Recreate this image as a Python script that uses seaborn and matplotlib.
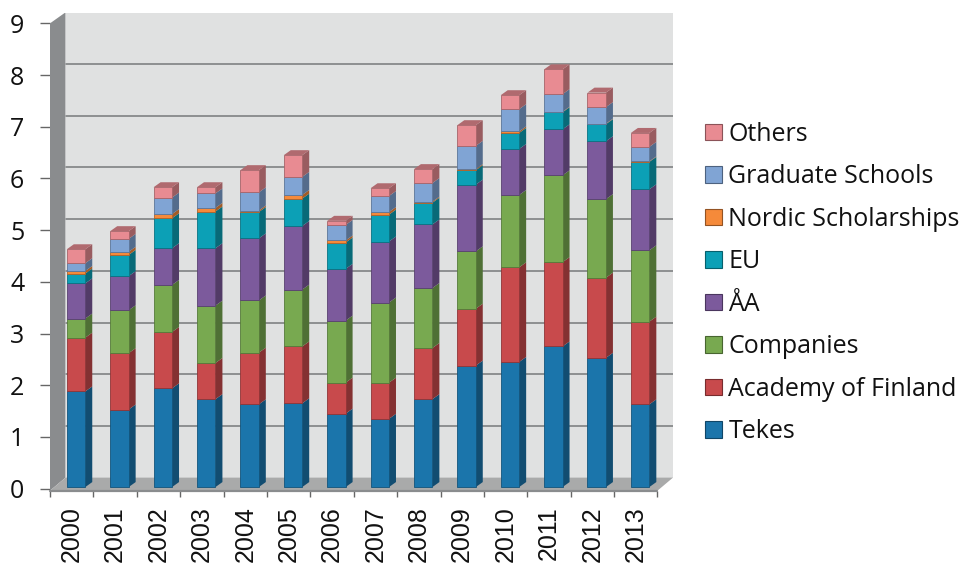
import numpy as np
import matplotlib
matplotlib.use("Agg")
import matplotlib.pyplot as plt
from matplotlib.colors import to_rgb
from matplotlib.patches import Patch
import seaborn as sns

years = ["2000", "2001", "2002", "2003", "2004", "2005", "2006",
         "2007", "2008", "2009", "2010", "2011", "2012", "2013"]

# values, stacked from the bottom up
tekes = [1.85, 1.50, 1.91, 1.70, 1.60, 1.62, 1.42, 1.32, 1.70, 2.35, 2.42, 2.72, 2.50, 1.60]
academy = [1.04, 1.09, 1.09, 0.70, 1.00, 1.10, 0.60, 0.70, 0.99, 1.10, 1.83, 1.63, 1.55, 1.60]
companies = [0.37, 0.83, 0.91, 1.11, 1.01, 1.10, 1.20, 1.55, 1.16, 1.11, 1.40, 1.68, 1.52, 1.38]
aa = [0.68, 0.66, 0.71, 1.11, 1.20, 1.23, 1.00, 1.18, 1.23, 1.29, 0.89, 0.89, 1.12, 1.18]
eu = [0.19, 0.41, 0.58, 0.71, 0.51, 0.53, 0.51, 0.52, 0.42, 0.28, 0.31, 0.33, 0.33, 0.53]
nordic = [0.05, 0.06, 0.08, 0.07, 0.03, 0.07, 0.04, 0.05, 0.02, 0.02, 0.03, 0.01, 0.01, 0.01]
graduate = [0.15, 0.25, 0.32, 0.28, 0.35, 0.35, 0.30, 0.31, 0.36, 0.45, 0.43, 0.34, 0.32, 0.28]
others = [0.27, 0.15, 0.20, 0.12, 0.43, 0.42, 0.08, 0.15, 0.27, 0.40, 0.27, 0.48, 0.28, 0.27]

series = [tekes, academy, companies, aa, eu, nordic, graduate, others]
names = ["Tekes", "Academy of Finland", "Companies", "ÅA", "EU",
         "Nordic Scholarships", "Graduate Schools", "Others"]
colors = ["#1b75ab", "#c84a4c", "#78a950", "#7c5a9c", "#0ca0b6", "#f58a3a", "#80a4d4", "#e88b92"]
y_ticks = list(range(10))

sns.set_theme(style="white")
plt.rcParams["font.family"] = ["Open Sans", "DejaVu Sans"]


def shade(c, f):
    return tuple(v * f for v in to_rgb(c))


W, H = 959, 563
fig = plt.figure(figsize=(W / 100, H / 100), dpi=100, facecolor="white")
# axes box in pixels: x 50-673, y 12.5-490.7
ax = fig.add_axes([50 / W, 1 - 490.7 / H, 623 / W, 478.2 / H])

# fake 3d depth of the chart box and of the bars, in data units
depth_x, depth_y = 15.5 / 43.39, 11 / 51.7
bar_dx, bar_dy = 7 / 43.39, 5 / 51.7
shift, lift = 0.10, 0.03

# draw the bars, then move them off the tick centres
bottom = np.zeros(len(years))
groups = []
for vals, col in zip(series, colors):
    n = len(ax.patches)
    sns.barplot(x=years, y=vals, order=years, bottom=bottom, color=col, saturation=1,
                width=0.425, edgecolor=shade(col, 0.72), linewidth=0.6, zorder=4, ax=ax)
    groups.append(ax.patches[n:])
    bottom = bottom + np.array(vals)

xmin, xmax = -0.5, 13.5
ymin, ymax = -0.04, 9.21
ax.set_xlim(xmin, xmin + 623 / 43.39)
ax.set_ylim(ymin, ymax)

# walls and floor
ax.fill([xmin + depth_x, xmax + depth_x, xmax + depth_x, xmin + depth_x],
        [depth_y, depth_y, 9 + depth_y, 9 + depth_y], color="#e0e1e1", lw=0, zorder=0)
ax.fill([xmin, xmin + depth_x, xmin + depth_x, xmin],
        [ymin, depth_y, 9 + depth_y, 9], color="#8a8c8e", lw=0, zorder=1)
ax.fill([xmin, xmax, xmax + depth_x, xmin + depth_x],
        [ymin, ymin, depth_y, depth_y], color="#a9aaaa", lw=0, zorder=1)
for t in y_ticks[1:]:
    ax.plot([xmin + depth_x, xmax + depth_x], [t + depth_y, t + depth_y],
            color="#77797b", lw=1.1, zorder=2)
ax.plot([xmin, xmax], [ymin, ymin], color="#8a8c8e", lw=1.6, zorder=3, clip_on=False)

# side and top faces come from the bars themselves
for k, (group, col) in enumerate(zip(groups, colors)):
    for p in group:
        p.set_x(p.get_x() + shift)
        p.set_y(p.get_y() + lift)
        x1 = p.get_x() + p.get_width()
        y0, y1 = p.get_y(), p.get_y() + p.get_height()
        ax.fill([x1, x1 + bar_dx, x1 + bar_dx, x1],
                [y0, y0 + bar_dy, y1 + bar_dy, y1], color=shade(col, 0.66), lw=0, zorder=3.5)
        if k == len(groups) - 1:
            x0 = p.get_x()
            ax.fill([x0, x1, x1 + bar_dx, x0 + bar_dx],
                    [y1, y1, y1 + bar_dy, y1 + bar_dy], color=shade(col, 0.76), lw=0, zorder=3.5)

ax.set_xlabel("")
ax.set_ylabel("")
sns.despine(ax=ax, left=True, bottom=True, top=True, right=True)
ax.patch.set_alpha(0)

# ticks sit between the years, labels on the years
ax.set_yticks(y_ticks)
ax.set_yticklabels([str(t) for t in y_ticks], fontsize=18, color="#111111")
ax.tick_params(axis="y", left=True, length=7.5, width=1, color="#666666", pad=11)
ax.set_xticks(np.arange(len(years) + 1) - 0.5)
ax.set_xticklabels([])
ax.set_xticks(np.arange(len(years)), minor=True)
ax.set_xticklabels(years, minor=True, rotation=90, fontsize=18, family="Liberation Sans", color="#111111")
ax.tick_params(axis="x", which="major", bottom=True, length=4.5, width=1, color="#666666")
ax.tick_params(axis="x", which="minor", bottom=False, length=0, pad=11)

handles = [Patch(facecolor=c, edgecolor=shade(c, 0.6), linewidth=0.8) for c in colors][::-1]
fig.legend(handles, names[::-1], loc="center left", bbox_to_anchor=(705 / W, 1 - 283 / H),
           frameon=False, fontsize=18, labelspacing=0.70, handlelength=0.66, handleheight=0.66,
           handletextpad=0.28, labelcolor="#111111", borderpad=0, borderaxespad=0)

fig.savefig("out.png", dpi=100)
